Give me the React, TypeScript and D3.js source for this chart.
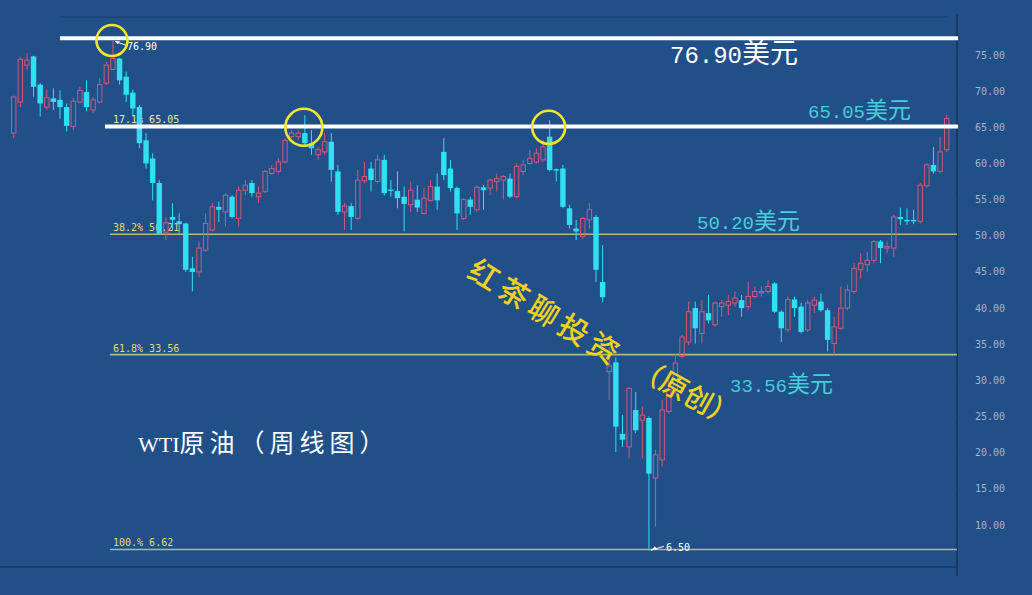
import React from 'react';
import * as d3 from 'd3';

// Weekly WTI candles
const opens = [64.2,68.5,73.6,74.8,70.9,67.8,69.0,68.8,67.8,65.1,68.5,69.9,67.4,68.5,71.1,73.0,74.5,72.0,69.8,67.8,63.2,60.7,57.3,50.5,52.6,52.0,51.7,45.5,45.0,48.0,50.8,54.0,53.3,55.4,52.4,56.3,57.3,55.4,56.1,58.6,58.9,60.2,63.7,63.7,64.2,62.8,61.2,61.6,63.0,58.9,53.3,54.1,52.4,57.6,59.3,57.5,60.5,56.4,56.2,55.4,54.3,55.0,53.1,54.9,56.8,61.6,59.3,56.6,52.4,55.0,53.6,56.7,56.6,57.5,57.7,57.9,55.4,58.9,60.0,60.2,60.5,63.7,59.2,59.3,53.8,51.0,49.9,52.2,52.6,43.6,31.2,32.5,22.6,20.8,25.9,24.5,24.8,16.5,19.0,25.7,28.7,33.3,35.3,40.0,36.5,39.3,37.7,40.2,40.4,40.7,41.1,40.2,41.6,42.1,42.3,43.4,39.5,37.0,41.2,40.2,37.0,40.4,40.9,39.7,35.1,37.2,40.0,42.3,45.3,46.0,46.6,49.2,48.3,48.3,52.6,52.2,52.2,52.0,56.9,59.8,58.9,61.9];
const highs = [69.4,74.7,75.3,74.9,71.1,70.2,70.4,70.1,68.3,69.1,70.6,71.5,69.2,71.8,74.1,76.9,74.6,72.7,70.2,68.1,64.2,61.4,57.7,52.5,54.5,53.1,51.8,47.1,49.2,53.1,54.5,54.7,55.9,55.6,56.8,57.7,57.7,56.8,59.1,59.8,60.7,63.5,64.6,64.6,66.7,64.6,62.3,64.2,64.2,59.8,54.5,54.5,59.1,60.2,60.2,61.2,61.2,57.7,58.9,56.8,57.5,57.0,56.6,57.7,58.6,63.5,60.5,56.8,55.2,55.4,57.0,57.0,57.9,58.6,58.4,58.6,60.0,60.5,61.9,62.1,63.2,66.0,59.3,59.8,54.3,52.2,52.6,54.5,52.9,48.7,34.6,33.2,25.2,29.1,28.4,26.4,25.0,20.4,27.3,30.5,33.7,36.3,40.9,40.9,41.1,41.8,40.9,41.1,41.8,42.3,41.8,43.6,43.0,43.0,43.9,43.6,39.7,41.6,41.6,40.7,41.1,41.6,42.0,40.0,38.8,43.0,43.2,46.2,47.6,47.8,49.4,49.4,49.2,52.9,53.9,53.8,53.6,57.3,60.0,62.3,63.7,66.7];
const lows = [63.5,67.8,72.9,69.2,66.5,67.4,67.4,66.2,64.4,64.6,68.3,67.2,67.0,68.3,70.9,72.9,70.9,68.5,66.5,62.1,59.3,54.9,50.1,49.4,50.8,50.3,45.0,42.3,44.3,47.8,50.6,51.9,51.3,52.4,51.3,55.6,55.4,54.5,55.9,58.4,58.6,60.0,63.5,63.2,62.3,61.2,60.5,61.2,57.5,52.9,50.8,50.8,52.2,57.3,56.1,57.3,55.6,55.4,53.8,50.6,53.3,53.3,52.9,54.7,53.6,57.7,56.1,50.8,52.2,52.9,53.3,53.6,55.6,56.1,55.0,55.2,55.2,58.4,59.8,60.0,60.2,58.9,57.5,53.8,51.0,49.4,49.6,51.0,43.6,40.8,27.3,20.1,20.8,19.2,22.7,19.2,6.5,9.8,18.1,25.4,28.2,33.1,34.9,35.1,35.1,37.9,37.4,38.8,39.0,40.2,38.8,39.7,41.4,41.6,42.0,39.3,35.3,36.7,38.8,36.5,36.7,39.3,39.5,34.0,33.5,37.0,39.7,42.0,44.1,45.0,46.2,46.2,47.6,47.1,51.5,51.5,51.6,51.7,56.7,58.6,58.6,61.6];
const closes = [69.2,74.4,74.3,70.6,68.3,69.1,68.5,67.8,65.2,68.6,70.1,67.8,68.8,70.9,73.6,74.5,71.5,69.5,67.6,62.8,60.0,57.3,50.3,51.8,52.2,51.6,45.3,45.0,48.3,51.7,54.0,53.6,55.6,52.6,56.3,57.0,55.9,55.9,58.9,59.3,60.2,63.2,64.2,64.2,62.8,62.1,61.9,63.0,59.1,53.3,54.1,52.6,57.7,58.2,57.7,60.5,55.9,56.2,55.2,54.4,56.3,53.9,55.2,56.8,54.9,58.4,56.6,53.1,55.0,54.0,56.7,56.3,57.7,57.9,58.2,55.4,59.6,59.8,60.7,61.4,62.3,59.1,59.0,54.0,51.5,50.6,52.4,53.6,45.3,41.5,32.0,23.6,21.8,28.9,23.1,25.2,17.1,19.7,25.9,28.7,32.4,36.0,39.5,37.2,39.5,38.3,40.7,40.7,40.9,41.4,40.0,41.6,42.3,42.3,43.0,39.5,37.2,41.2,40.0,36.7,40.7,41.1,39.7,35.6,37.4,40.0,42.5,45.5,46.2,46.6,49.2,48.3,48.5,52.6,52.3,52.0,52.0,57.0,59.8,58.9,61.6,66.2];

const yTicks = [75, 70, 65, 60, 55, 50, 45, 40, 35, 30, 25, 20, 15, 10];

// Fibonacci levels and labels
const fibValues = [50.21, 33.56, 6.62];
const fibLabels = ['38.2% 50.21', '61.8% 33.56', '100.% 6.62'];
const topFibLabel = '17.1% 65.05';
const topFibValue = 65.05;

// Hand-drawn white resistance lines (levels) and price notes
const whiteLevels = [77.3, 65.1];
const whiteStarts = [60, 105];
const priceNotes = [
  { text: '76.90', unit: '美元', v: 74.6, x: 670, color: '#FFFFFF', size: 24, cjk: 28 },
  { text: '65.05', unit: '美元', v: 67.1, x: 808, color: '#48CCDA', size: 19, cjk: 23 },
  { text: '50.20', unit: '美元', v: 51.7, x: 697, color: '#48CCDA', size: 19, cjk: 23 },
  { text: '33.56', unit: '美元', v: 29.1, x: 730, color: '#48CCDA', size: 19, cjk: 23 },
];
// circles: candle index, value, radius
const circles = [
  { i: 15, v: 77.0, r: 15.5 },
  { i: 44, v: 65.0, r: 18.5 },
  { i: 81, v: 65.0, r: 16.5 },
];

const BG = '#214F88';
const RED = '#D2587A';
const CYAN = '#2EE0F2';

export default function App() {
  const n = opens.length;
  const x = d3.scaleBand<number>().domain(d3.range(n)).range([10.4, 950]).padding(0);
  const y = d3.scaleLinear().domain([10, 75]).range([525, 55]);
  const cx = (i: number) => (x(i) as number) + x.bandwidth() / 2;
  const bw = 4.4;
  const axisX = 957;

  const candles = d3.range(n).map((i) => {
    const o = opens[i], c = closes[i], h = highs[i], l = lows[i];
    const up = c >= o;
    const top = y(Math.max(o, c));
    let bot = y(Math.min(o, c));
    if (bot - top < 1) bot = top + 1;
    const xc = cx(i);
    if (up) {
      return (
        <g key={i}>
          <line x1={xc} x2={xc} y1={y(h)} y2={top} stroke={RED} strokeWidth={1} />
          <line x1={xc} x2={xc} y1={bot} y2={y(l)} stroke={RED} strokeWidth={1} />
          <rect x={xc - bw / 2} y={top} width={bw} height={bot - top} fill="none" stroke={RED} strokeWidth={1} />
        </g>
      );
    }
    return (
      <g key={i}>
        <line x1={xc} x2={xc} y1={y(h)} y2={y(l)} stroke={CYAN} strokeWidth={1} />
        <rect x={xc - bw / 2 - 0.5} y={top} width={bw + 1} height={bot - top} fill={CYAN} />
      </g>
    );
  });

  const minIdx = lows.indexOf(Math.min(...lows));
  const maxIdx = highs.indexOf(Math.max(...highs));

  return (
    <svg width={1032} height={595} style={{ position: 'absolute', left: 0, top: 0 }}>
      <rect x={0} y={0} width={1032} height={595} fill={BG} />
      {/* frame */}
      <line x1={60} x2={948} y1={17} y2={17} stroke="#183A6A" strokeWidth={1} />
      <line x1={0} x2={axisX} y1={567} y2={567} stroke="#183764" strokeWidth={1.5} />
      <line x1={axisX} x2={axisX} y1={14} y2={576} stroke="#15305A" strokeWidth={1.5} />
      {yTicks.map((t) => (
        <g key={t}>
          <line x1={axisX - 4} x2={axisX} y1={y(t)} y2={y(t)} stroke="#2A4A7A" />
          <text x={975} y={y(t)} dy="0.35em" fontSize={10} fontFamily="'DejaVu Sans Mono', monospace" fill="#A6B2C8">
            {t.toFixed(2)}
          </text>
        </g>
      ))}

      {/* fib lines */}
      {fibValues.map((v, k) => (
        <g key={v}>
          <line x1={110} x2={axisX} y1={y(v)} y2={y(v)} stroke="#B3BB72" strokeWidth={1.6} />
          <text x={113} y={y(v) - 3} fontSize={10} fontFamily="'DejaVu Sans Mono', monospace" fill="#E2DC6A">
            {fibLabels[k]}
          </text>
        </g>
      ))}
      <text x={113} y={y(topFibValue) - 4} fontSize={10} fontFamily="'DejaVu Sans Mono', monospace" fill="#ECE8B0">
        {topFibLabel}
      </text>

      {candles}

      {/* white hand-drawn lines */}
      {whiteLevels.map((v, k) => (
        <line key={v} x1={whiteStarts[k]} x2={958} y1={y(v)} y2={y(v)} stroke="#FFFFFF" strokeWidth={4} />
      ))}

      {/* extreme labels */}
      <g>
        <line x1={cx(maxIdx) + 2} y1={y(highs[maxIdx])} x2={cx(maxIdx) + 13} y2={y(highs[maxIdx]) + 4} stroke="#FFFFFF" strokeWidth={1} />
        <path d={`M${cx(maxIdx) + 2},${y(highs[maxIdx])} l5,0 l-2,3 z`} fill="#FFFFFF" />
        <text x={cx(maxIdx) + 14} y={y(highs[maxIdx]) + 9} fontSize={10} fontFamily="'DejaVu Sans Mono', monospace" fill="#FFFFFF">
          76.90
        </text>
        <line x1={cx(minIdx) + 2} y1={y(lows[minIdx])} x2={cx(minIdx) + 15} y2={y(lows[minIdx]) - 4} stroke="#FFFFFF" strokeWidth={1} />
        <path d={`M${cx(minIdx) + 2},${y(lows[minIdx])} l6,-1 l-2,-3 z`} fill="#FFFFFF" />
        <text x={cx(minIdx) + 17} y={y(lows[minIdx]) + 1} fontSize={10} fontFamily="'DejaVu Sans Mono', monospace" fill="#FFFFFF">
          6.50
        </text>
      </g>

      {/* circles */}
      {circles.map((c) => (
        <circle key={c.i} cx={cx(c.i) - 1} cy={y(c.v)} r={c.r} fill="none" stroke="#F2E62A" strokeWidth={2.6} />
      ))}

      {/* price notes */}
      {priceNotes.map((p) => (
        <text key={p.text} x={p.x} y={y(p.v)} dy="0.35em" fill={p.color}>
          <tspan fontFamily="'Liberation Mono', monospace" fontSize={p.size}>{p.text}</tspan>
          <tspan fontFamily="'Noto Sans CJK SC', sans-serif" fontSize={p.cjk}>{p.unit}</tspan>
        </text>
      ))}

      {/* title */}
      <text x={138} y={446} dy="0.35em" fill="#FFFFFF">
        <tspan fontFamily="'Liberation Serif', serif" fontSize={22}>WTI</tspan>
        <tspan fontFamily="'Noto Sans CJK SC', sans-serif" fontSize={25} letterSpacing={5}>原油（周线图）</tspan>
      </text>

      {/* calligraphy watermark */}
      <text
        transform="translate(547,311) rotate(31.5)"
        textAnchor="middle"
        dominantBaseline="central"
        fontFamily="'Noto Sans CJK SC', sans-serif"
        fontWeight={500}
        fontSize={30}
        letterSpacing={5}
        fill="#EED21E"
      >
        红茶聊投资
      </text>
      <text
        transform="translate(687,391) rotate(29)"
        textAnchor="middle"
        dominantBaseline="central"
        fontFamily="'Noto Sans CJK SC', sans-serif"
        fontWeight={500}
        fontSize={28}
        fill="#EED21E"
      >
        （原创）
      </text>
    </svg>
  );
}
